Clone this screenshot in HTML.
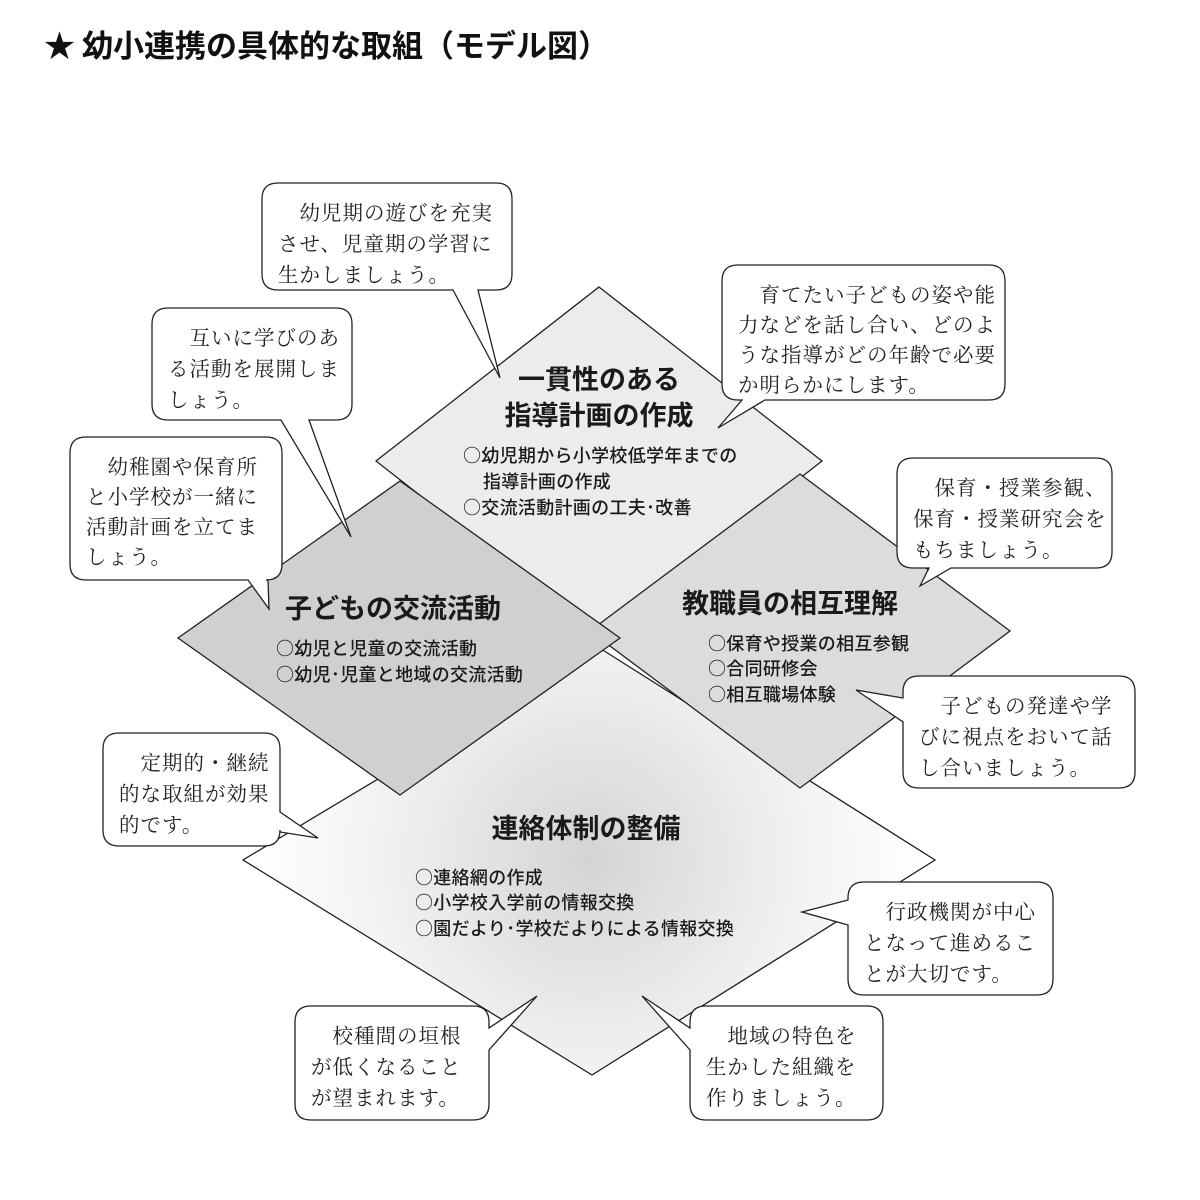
<!DOCTYPE html>
<html><head><meta charset="utf-8">
<style>
html,body{margin:0;padding:0;background:#fff;}
svg{display:block;}
.t{font-family:"Noto Sans CJK JP",sans-serif;font-weight:bold;fill:#111;}
.h{font-family:"Noto Sans CJK JP",sans-serif;font-weight:bold;font-size:27px;fill:#1a1a1a;}
.i{font-family:"Noto Sans CJK JP",sans-serif;font-weight:500;font-size:18px;fill:#1a1a1a;letter-spacing:0.3px;}
.b{font-family:"Noto Serif CJK SC","Noto Serif CJK JP",serif;font-size:20.5px;fill:#222;letter-spacing:1px;}
</style></head>
<body>
<svg id="s" width="1200" height="1200" viewBox="0 0 1200 1200" xmlns="http://www.w3.org/2000/svg">
<defs>
<radialGradient id="g" cx="590" cy="860" r="330" gradientUnits="userSpaceOnUse">
<stop offset="0" stop-color="#d4d4d4"/><stop offset="0.6" stop-color="#f0f0f0"/><stop offset="1" stop-color="#fff"/>
</radialGradient>
</defs>
<text x="44" y="57" class="t" font-size="31">★ 幼小連携の具体的な取組（モデル図）</text>

<polygon points="598,647 935,860 592,1075 243,860" fill="url(#g)" stroke="#222" stroke-width="1.3"/>
<polygon points="599,287 822,461 599,635 376,461" fill="#ececec" stroke="#222" stroke-width="1.3"/>
<polygon points="800,474 1010,631 800,788 590,631" fill="#dcdcdc" stroke="#222" stroke-width="1.3"/>
<polygon points="400,481 620,638 400,795 178,638" fill="#d0d0d0" stroke="#222" stroke-width="1.3"/>

<text class="h" x="599" y="389" text-anchor="middle">一貫性のある</text>
<text class="h" x="599" y="425" text-anchor="middle">指導計画の作成</text>
<text class="i" x="463" y="462">○幼児期から小学校低学年までの</text>
<text class="i" x="483" y="488">指導計画の作成</text>
<text class="i" x="463" y="514">○交流活動計画の工夫･改善</text>

<text class="h" x="393" y="618" text-anchor="middle">子どもの交流活動</text>
<text class="i" x="276" y="655">○幼児と児童の交流活動</text>
<text class="i" x="276" y="681">○幼児･児童と地域の交流活動</text>

<text class="h" x="790" y="613" text-anchor="middle">教職員の相互理解</text>
<text class="i" x="708" y="650">○保育や授業の相互参観</text>
<text class="i" x="708" y="675">○合同研修会</text>
<text class="i" x="708" y="701">○相互職場体験</text>

<text class="h" x="586" y="838" text-anchor="middle">連絡体制の整備</text>
<text class="i" x="415" y="884">○連絡網の作成</text>
<text class="i" x="415" y="909">○小学校入学前の情報交換</text>
<text class="i" x="415" y="935">○園だより･学校だよりによる情報交換</text>

<g id="bub"></g>
</svg>
<script>
function bubble(x,y,w,h,side,a,b,tx,ty){
  var r=16,x2=x+w,y2=y+h,d="M"+(x+r)+","+y;
  d+=" L"+(x2-r)+","+y+" Q"+x2+","+y+" "+x2+","+(y+r);
  if(side=="R"){d+=" L"+x2+","+a+" L"+tx+","+ty+" L"+x2+","+b;}
  d+=" L"+x2+","+(y2-r)+" Q"+x2+","+y2+" "+(x2-r)+","+y2;
  if(side=="B"){d+=" L"+b+","+y2+" L"+tx+","+ty+" L"+a+","+y2;}
  d+=" L"+(x+r)+","+y2+" Q"+x+","+y2+" "+x+","+(y2-r);
  if(side=="L"){d+=" L"+x+","+b+" L"+tx+","+ty+" L"+x+","+a;}
  d+=" L"+x+","+(y+r)+" Q"+x+","+y+" "+(x+r)+","+y+" Z";
  return '<path d="'+d+'" fill="#fff" stroke="#222" stroke-width="1.3"/>';
}
var B=[
 [262,183,250,107,"B",453,478,500,378,["　幼児期の遊びを充実","させ、児童期の学習に","生かしましょう。"]],
 [722,265,283,135,"B",742,765,718,428,["　育てたい子どもの姿や能","力などを話し合い、どのよ","うな指導がどの年齢で必要","か明らかにします。"]],
 [152,308,200,112,"B",281,309,351,537,["　互いに学びのあ","る活動を展開しま","しょう。"]],
 [70,437,212,143,"B",248,268,269,609,["　幼稚園や保育所","と小学校が一緒に","活動計画を立てま","しょう。"]],
 [897,458,215,110,"B",929,951,920,586,["　保育・授業参観、","保育・授業研究会を","もちましょう。"]],
 [903,676,232,112,"L",698,722,856,690,["　子どもの発達や学","びに視点をおいて話","し合いましょう。"]],
 [103,733,177,113,"R",812,832,318,838,["　定期的・継続","的な取組が効果","的です。"]],
 [848,882,205,113,"L",900,925,802,912,["　行政機関が中心","となって進めるこ","とが大切です。"]],
 [295,1006,194,114,"R",1028,1050,537,996,["　校種間の垣根","が低くなること","が望まれます。"]],
 [690,1006,193,114,"L",1028,1050,642,996,["　地域の特色を","生かした組織を","作りましょう。"]]
];
var out="";
B.forEach(function(q){
  out+=bubble(q[0],q[1],q[2],q[3],q[4],q[5],q[6],q[7],q[8]);
  var lh=q[9].length==4?30:31;
  q[9].forEach(function(s,k){
    out+='<text class="b" x="'+(q[0]+16)+'" y="'+(q[1]+37+k*lh)+'">'+s+'</text>';
  });
});
document.getElementById("bub").innerHTML=out;
</script>
</body></html>
